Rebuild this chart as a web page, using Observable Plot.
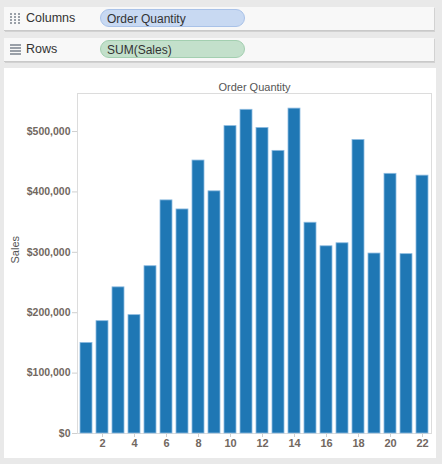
<!DOCTYPE html>
<html>
<head>
<meta charset="utf-8">
<script src="https://cdn.jsdelivr.net/npm/d3@7"></script>
<script src="https://cdn.jsdelivr.net/npm/@observablehq/plot@0.6"></script>
<style>
  html, body { margin: 0; padding: 0; }
  body { width: 442px; height: 464px; background: #e9e9e9; position: relative; overflow: hidden; font-family: Arial, "Liberation Sans", sans-serif; }
  .shelf { position: absolute; left: 4px; width: 430px; height: 23px; background: #f8f8f8; border-bottom: 1px solid #c9c9c9; box-shadow: 1px 1px 0 #d2d2d2; }
  .shelf .lbl { position: absolute; left: 22px; top: 4px; font-size: 12.5px; color: #333; }
  .pill { position: absolute; left: 96px; top: 2px; width: 145px; height: 18px; border-radius: 9px; font-size: 12px; color: #333; line-height: 18px; padding-left: 6px; box-sizing: border-box; }
  .pill.blue { background: #c8d9f2; border: 1px solid #a9c2e8; }
  .pill.green { background: #c3e0cb; border: 1px solid #a3cfb0; }
  .icon { position: absolute; left: 6px; top: 6px; width: 10px; height: 11px; }
  .icon.cols { background: repeating-linear-gradient(90deg, #9aa0a8 0 2px, transparent 2px 4px); -webkit-mask: repeating-linear-gradient(180deg, #000 0 2px, transparent 2px 3px); }
  .icon.rows { width: 11px; background: repeating-linear-gradient(180deg, #9aa0a8 0 2px, transparent 2px 3px); }
  #panel { position: absolute; left: 4px; top: 68px; width: 432px; height: 390px; background: #fff; }
</style>
</head>
<body>
<div class="shelf" style="top:7px"><div class="icon cols"></div><div class="lbl">Columns</div><div class="pill blue">Order Quantity</div></div>
<div class="shelf" style="top:38px"><div class="icon rows"></div><div class="lbl">Rows</div><div class="pill green">SUM(Sales)</div></div>
<div id="panel"></div>
<script>
const quantities = [1,2,3,4,5,6,7,8,9,10,11,12,13,14,15,16,17,18,19,20,21,22];
const sales = [150000,186000,242000,196000,277000,386000,371000,452000,401000,509000,536000,506000,468000,538000,349000,310000,315000,486000,298000,430000,297000,427000];
const xTicks = [2,4,6,8,10,12,14,16,18,20,22];
const yTicks = [0,100000,200000,300000,400000,500000];
const title = "Order Quantity";
const yLabel = "Sales";

const data = quantities.map((q, i) => ({q, s: sales[i]}));

const chart = Plot.plot({
  width: 432,
  height: 390,
  marginLeft: 73,
  marginRight: 5,
  marginTop: 25,
  marginBottom: 25,
  style: {fontFamily: "Arial, 'Liberation Sans', sans-serif", background: "#fff"},
  x: {type: "band", domain: quantities, paddingInner: 0.27, paddingOuter: 0.13, axis: null},
  y: {domain: [0, 563000], axis: null},
  marks: [
    Plot.frame({stroke: "#dcdcdc"}),
    Plot.barY(data, {x: "q", y: "s", fill: "#1f77b4", stroke: "#8dbbe0", strokeWidth: 0.8}),
    Plot.axisY({ticks: yTicks, tickFormat: d3.format("$,"), tickSize: 5, tickPadding: 2, fontSize: 10.5, fontWeight: "bold", fill: "#72685f", stroke: "#cfcfcf", label: null}),
    Plot.axisX({ticks: xTicks, tickSize: 4, tickPadding: 2, fontSize: 11, fontWeight: "bold", fill: "#72685f", stroke: "#cfcfcf", label: null}),
    Plot.text([title], {frameAnchor: "top", dy: -10, fontSize: 11, fill: "#555"}),
    Plot.text([yLabel], {frameAnchor: "left", dx: -62, rotate: -90, fontSize: 11, fill: "#555"})
  ]
});
document.getElementById("panel").appendChild(chart);
</script>
</body>
</html>
